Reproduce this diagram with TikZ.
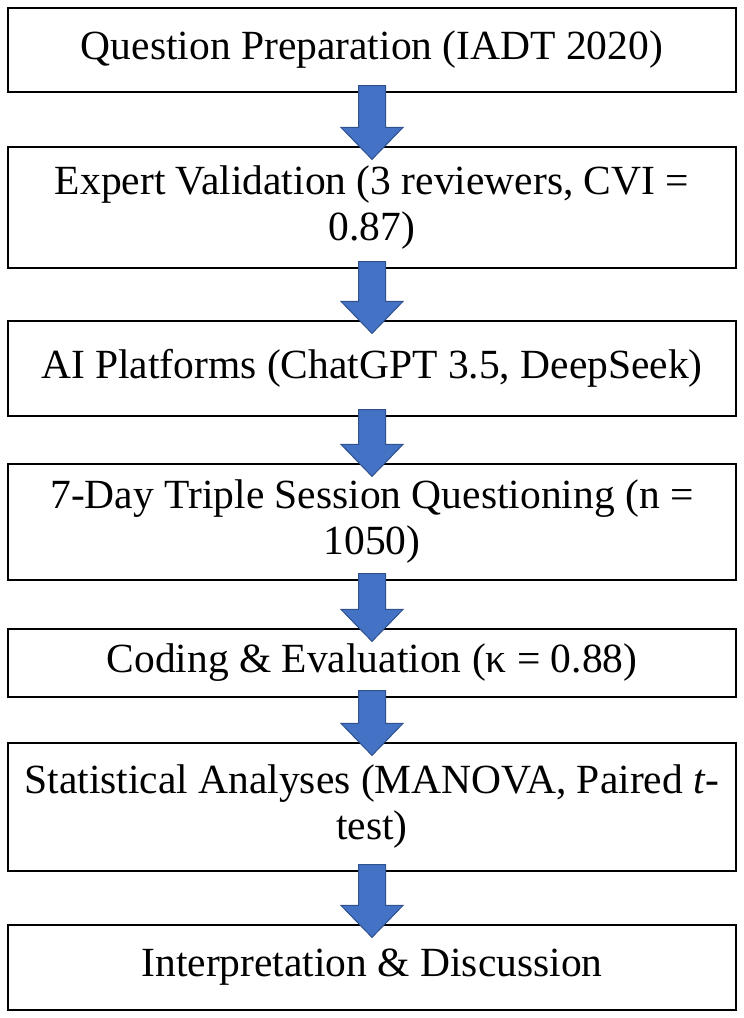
\documentclass[tikz,border=0pt]{standalone}
\usepackage{fontspec}
\setmainfont{Liberation Serif}
\usetikzlibrary{calc}
\definecolor{ablue}{HTML}{4472C4}
\definecolor{aedge}{HTML}{2F528F}
\begin{document}
\begin{tikzpicture}[x=1pt,y=-1pt,
  box/.style={draw=black,line width=1.2pt,minimum width=728pt,inner sep=0pt,align=center,font=\fontsize{41.5}{46}\selectfont},
  barrow/.style={fill=ablue,draw=aedge,line width=1pt}]
\useasboundingbox (0,0) rectangle (744,1018);
\node[box,minimum height=84pt] (b1) at (372,50) {Question Preparation (IADT 2020)};
\node[box,minimum height=121pt] (b2) at (372,207.5) {Expert Validation (3 reviewers, CVI =\\0.87)};
\node[box,minimum height=95pt] (b3) at (372,368.5) {AI Platforms (ChatGPT 3.5, DeepSeek)};
\node[box,minimum height=116pt] (b4) at (372,522) {7-Day Triple Session Questioning (n =\\1050)};
\node[box,minimum height=68pt] (b5) at (372,663) {Coding \& Evaluation (κ = 0.88)};
\node[box,minimum height=128pt] (b6) at (372,807) {Statistical Analyses (MANOVA, Paired \textit{t}-\\test)};
\node[box,minimum height=85pt] (b7) at (372,967.5) {Interpretation \& Discussion};
\foreach \a/\b in {b1/b2,b2/b3,b3/b4,b4/b5,b5/b6,b6/b7}{
  \draw[barrow] let \p1=(\a.south), \p2=(\b.north) in
    (\x1-13.5,\y1+7) -- (\x1+13.5,\y1+7) -- (\x1+13.5,\y2+19) -- (\x1+31,\y2+19)
    -- (\x1,\y2-13) -- (\x1-31,\y2+19) -- (\x1-13.5,\y2+19) -- cycle;
}
\end{tikzpicture}
\end{document}
